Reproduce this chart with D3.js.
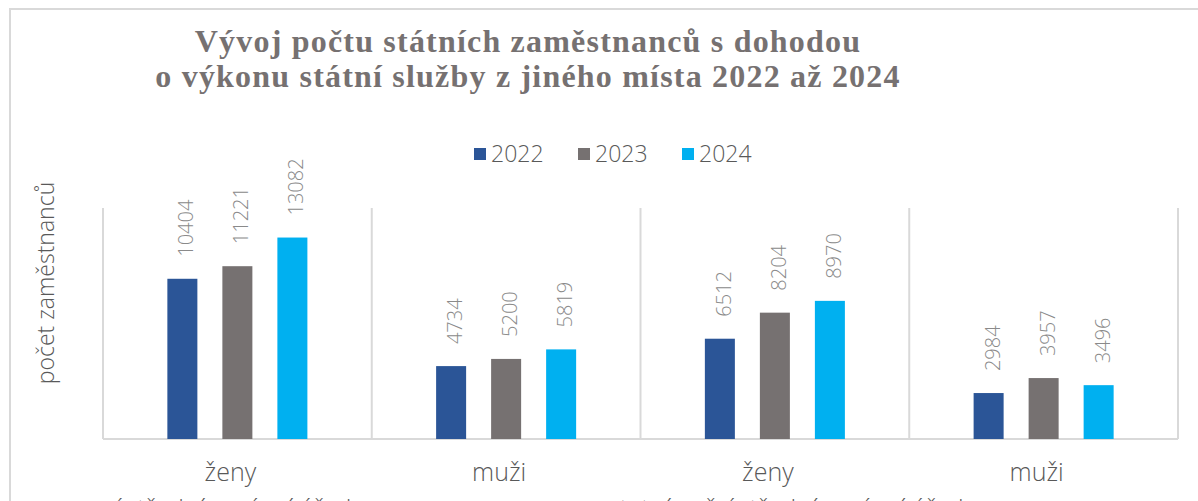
<!DOCTYPE html>
<html>
<head>
<meta charset="utf-8">
<script src="https://cdn.jsdelivr.net/npm/d3@7"></script>
<style>
  body { margin: 0; background: #fff; }
  svg { display: block; }
</style>
</head>
<body>
<svg id="chart" width="1198" height="501"></svg>
<script>
// chart data
var titleLines = ['Vývoj počtu státních zaměstnanců s dohodou', 'o výkonu státní služby z jiného místa 2022 až 2024'];
var genders = ['ženy', 'muži', 'ženy', 'muži'];
var offices = ['ústřední správní úřady', 'ostatní než ústřední správní úřady'];
var years = ['2022', '2023', '2024'];
var values2022 = [10404, 4734, 6512, 2984];
var values2023 = [11221, 5200, 8204, 3957];
var values2024 = [13082, 5819, 8970, 3496];
var yMax = 15000;
var yTitle = 'počet zaměstnanců';

var colors = {'2022': '#2B5597', '2023': '#767171', '2024': '#00B0F0'};
var seriesValues = {'2022': values2022, '2023': values2023, '2024': values2024};

var svg = d3.select('#chart');
var margin = {top: 208, left: 103};
var plotW = 1178 - margin.left;
var plotH = 439 - margin.top;

// outer chart border (cut off at right and bottom)
svg.append('rect')
    .attr('x', 10).attr('y', 9)
    .attr('width', 1400).attr('height', 700)
    .attr('fill', 'none')
    .attr('stroke', '#d9d9d9')
    .attr('stroke-width', 2);

// title
svg.append('g').selectAll('text')
    .data(titleLines)
    .enter().append('text')
    .attr('x', 528)
    .attr('y', (d, i) => 52 + i * 35)
    .attr('text-anchor', 'middle')
    .style('font-family', '"Liberation Serif", "Times New Roman", serif')
    .style('font-weight', 'bold')
    .style('font-size', '32px')
    .style('letter-spacing', '1.2px')
    .style('fill', '#767171')
    .text(d => d);

// legend
var legend = svg.append('g').selectAll('g')
    .data(years)
    .enter().append('g')
    .attr('transform', (d, i) => 'translate(' + (474 + i * 104) + ',148)');
legend.append('rect')
    .attr('width', 12).attr('height', 12)
    .attr('fill', d => colors[d]);
legend.append('text')
    .attr('x', 17).attr('y', 14)
    .style('font-family', '"Open Sans", sans-serif')
    .style('font-weight', 300)
    .style('font-size', '23px')
    .style('fill', '#595959')
    .text(d => d);

var plot = svg.append('g')
    .attr('transform', 'translate(' + margin.left + ',' + margin.top + ')');

var x0 = d3.scaleBand()
    .domain(d3.range(genders.length))
    .range([0, plotW]);

var x1 = d3.scaleBand()
    .domain(years)
    .range([0, x0.bandwidth()])
    .paddingInner(0.4545)
    .paddingOuter(1.17);

var yScale = d3.scaleLinear()
    .domain([0, yMax])
    .range([plotH, 0]);

// group separators (category tick marks)
plot.append('g').selectAll('line')
    .data(d3.range(genders.length + 1))
    .enter().append('line')
    .attr('x1', d => d * x0.step())
    .attr('x2', d => d * x0.step())
    .attr('y1', 0).attr('y2', plotH)
    .attr('stroke', '#d9d9d9')
    .attr('stroke-width', 2);

// baseline
plot.append('line')
    .attr('x1', 0).attr('x2', plotW)
    .attr('y1', yScale(0)).attr('y2', yScale(0))
    .attr('stroke', '#d9d9d9')
    .attr('stroke-width', 2);

// bars + labels
var groups = plot.append('g').selectAll('g')
    .data(d3.range(genders.length))
    .enter().append('g')
    .attr('transform', d => 'translate(' + x0(d) + ',0)');

var barData = gi => years.map(yr => ({year: yr, value: seriesValues[yr][gi]}));

groups.selectAll('rect')
    .data(barData)
    .enter().append('rect')
    .attr('x', d => x1(d.year))
    .attr('y', d => yScale(d.value))
    .attr('width', x1.bandwidth())
    .attr('height', d => plotH - yScale(d.value))
    .attr('fill', d => colors[d.year]);

groups.selectAll('text')
    .data(barData)
    .enter().append('text')
    .attr('transform', d => 'translate(' + (x1(d.year) + x1.bandwidth() / 2 + 11) + ',' + (yScale(d.value) - 22) + ') rotate(-90)')
    .style('font-family', '"Open Sans", sans-serif')
    .style('font-weight', 300)
    .style('font-size', '20px')
    .style('fill', '#8a8a8a')
    .text(d => d.value);

// category labels
plot.append('g').selectAll('text')
    .data(genders)
    .enter().append('text')
    .attr('x', (d, i) => x0(i) + x0.bandwidth() / 2 - 7)
    .attr('y', plotH + 42)
    .attr('text-anchor', 'middle')
    .style('font-family', '"Open Sans", sans-serif')
    .style('font-weight', 300)
    .style('font-size', '25px')
    .style('fill', '#595959')
    .text(d => d);

// second level labels (mostly below the bottom edge)
plot.append('g').selectAll('text')
    .data(offices)
    .enter().append('text')
    .attr('x', (d, i) => x0(i * 2) + x0.step() - 135 + i * 10)
    .attr('y', plotH + 79)
    .attr('text-anchor', 'middle')
    .style('font-family', '"Open Sans", sans-serif')
    .style('font-weight', 300)
    .style('font-size', '25px')
    .style('fill', '#595959')
    .text(d => d);

// y axis title
svg.append('text')
    .attr('transform', 'translate(54,283) rotate(-90)')
    .attr('text-anchor', 'middle')
    .style('font-family', '"Open Sans", sans-serif')
    .style('font-weight', 300)
    .style('font-size', '23px')
    .style('fill', '#595959')
    .text(yTitle);
</script>
</body>
</html>
